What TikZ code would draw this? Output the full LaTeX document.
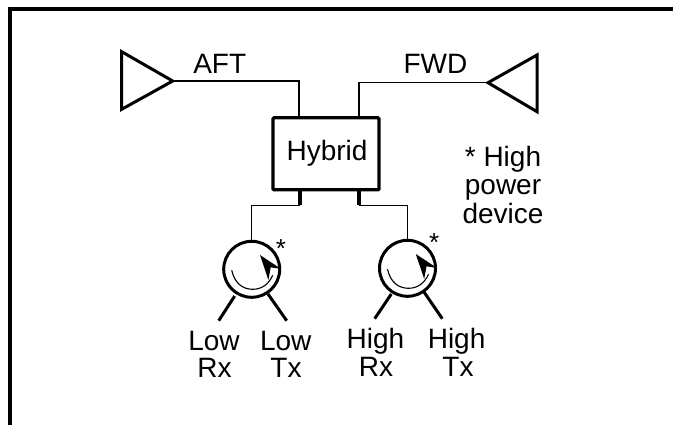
\documentclass[tikz,border=0pt]{standalone}
\usepackage{fontspec}
\setmainfont{Liberation Sans}
\tikzset{
  thick line/.style={line width=3pt,line join=miter},
  thin line/.style={line width=1.1pt},
  label text/.style={anchor=base,inner sep=0pt,font=\fontsize{28}{28}\selectfont},
  star text/.style={inner sep=0pt,font=\fontsize{26}{26}\selectfont},
  circulator/.style={circle,draw,line width=3pt,minimum size=56pt,inner sep=0pt},
  hybridbox/.style={draw,line width=3.2pt,rounded corners=1pt,minimum width=106pt,minimum height=72pt,inner sep=0pt},
}
\begin{document}
\begin{tikzpicture}[x=1pt,y=-1pt]
\useasboundingbox[fill=white] (0,0) rectangle (673,425);
% frame
\coordinate (fa) at (10,425);
\coordinate (fb) at (10,9);
\coordinate (fc) at (673,9);
\draw[line width=4pt] (fa) -- (fb) -- (fc);
% antennas
\coordinate (la) at (172.7,81);
\coordinate (ra) at (488,82.7);
\draw[thick line] (121.7,51.7) -- (la) -- (121.7,109.3) -- cycle;
\draw[thick line] (537,55) -- (ra) -- (537,111.7) -- cycle;
% hybrid
\node[hybridbox] (hyb) at (326,153.8) {};
\node[label text] (hybt) at (327,161) {Hybrid};
\coordinate (ht1) at (299,117.7);
\coordinate (ht2) at (359,117.7);
\draw[thin line] (la) -| (ht1);
\draw[thin line] (ra) -| (ht2);
% circulators
\node[circulator] (c1) at (251.7,269.3) {};
\node[circulator] (c2) at (407.5,268.3) {};
\coordinate (s1a) at (300,190);
\coordinate (s1b) at (300,205.3);
\coordinate (s2a) at (359,190);
\coordinate (s2b) at (359,205.3);
\draw[line width=4.5pt] (s1a) -- (s1b);
\draw[line width=4.5pt] (s2a) -- (s2b);
\draw[thin line] (s1b) -| (c1.north);
\draw[thin line] (s2b) -| (c2.north);
% inner arrows
\foreach \c in {c1,c2}{
  \begin{scope}[shift={(\c)}]
    \draw[line width=1.1pt] (-20,1) .. controls (-17,14) and (-9,20) .. (1,20) .. controls (10,20) and (17,15) .. (21,6);
    \fill (8.3,-14.3) -- (29.5,-0.3) -- (19,-2) -- (16.7,10.7) -- cycle;
  \end{scope}
}
\node[star text] (st1) at (281,249) {*};
\node[star text] (st2) at (434.3,243) {*};
% legs
\draw[thick line] (234.7,296) -- (218.7,320.7) coordinate (l1);
\draw[thick line] (268,294) -- (286.7,320.7) coordinate (l2);
\draw[thick line] (391.3,294) -- (374.7,318.7) coordinate (l3);
\draw[thick line] (424,292) -- (442.3,318.7) coordinate (l4);
% labels
\node[label text] (aft) at (219.7,73.3) {AFT};
\node[label text] (fwd) at (435.5,73.3) {FWD};
\node[label text] (n1) at (503,166.7) {* High};
\node[label text] (n2) at (503,195) {power};
\node[label text] (n3) at (503,224) {device};
\node[label text] (t1) at (214,350) {Low};
\node[label text] (t2) at (214.5,377.5) {Rx};
\node[label text] (t3) at (285.7,350) {Low};
\node[label text] (t4) at (286,377.5) {Tx};
\node[label text] (t5) at (375.5,348.3) {High};
\node[label text] (t6) at (376,376) {Rx};
\node[label text] (t7) at (456.6,348.3) {High};
\node[label text] (t8) at (458,376) {Tx};
\end{tikzpicture}
\end{document}
